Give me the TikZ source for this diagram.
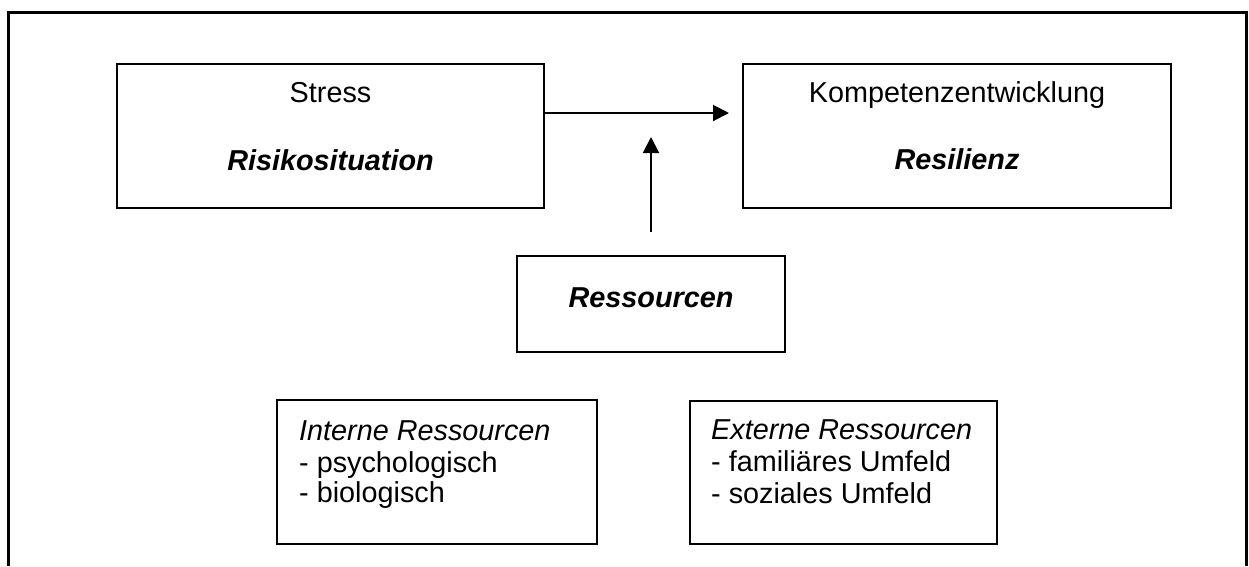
\documentclass[tikz,border=0pt]{standalone}
\usepackage{fontspec}
\setmainfont{Liberation Sans}
\usetikzlibrary{arrows.meta}

\begin{document}
\begin{tikzpicture}[x=1pt,y=-1pt,
  box/.style={draw, line width=2pt, rectangle, inner sep=0pt},
  lbl/.style={inner sep=0pt, anchor=base, font=\fontsize{28.8}{31}\selectfont},
  lbll/.style={inner sep=0pt, anchor=base west, font=\fontsize{28.8}{31}\selectfont},
  arr/.style={line width=2pt, -{Triangle[length=16pt,width=16pt]}}]
  \useasboundingbox (0,0) rectangle (1249,566);

  % open frame (left, top, right)
  \draw[line width=2.8pt] (8.5,566) -- (8.5,12.5) -- (1246.5,12.5) -- (1246.5,566);

  % main boxes
  \node[box, minimum width=427pt, minimum height=144pt] (risk)   at (330.5,136) {};
  \node[box, minimum width=428pt, minimum height=144pt] (resil)  at (957,136) {};
  \node[box, minimum width=268pt, minimum height=96pt]  (ress)   at (651,304) {};
  \node[box, minimum width=320pt, minimum height=144pt] (intern) at (437,472) {};
  \node[box, minimum width=307pt, minimum height=143pt] (extern) at (843.5,472.5) {};

  % labels
  \node[lbl] (t1)  at (330.5,102) {Stress};
  \node[lbl] (t2)  at (330.5,170) {\bfseries\itshape Risikosituation};
  \node[lbl] (t3)  at (957,102)   {Kompetenzentwicklung};
  \node[lbl] (t4)  at (957,169)   {\bfseries\itshape Resilienz};
  \node[lbl] (t5)  at (651,307)   {\bfseries\itshape Ressourcen};

  \node[lbll] (i1) at (299,440) {\itshape Interne Ressourcen};
  \node[lbll] (i2) at (299,472) {- psychologisch};
  \node[lbll] (i3) at (299,502) {- biologisch};

  \node[lbll] (e1) at (711,439) {\itshape Externe Ressourcen};
  \node[lbll] (e2) at (711,471) {- familiäres Umfeld};
  \node[lbll] (e3) at (711,503) {- soziales Umfeld};

  % connectors
  \coordinate (meet) at (651,137);
  \draw[arr, shorten >=13pt] ([yshift=23pt]risk.east) -- ([yshift=23pt]resil.west);
  \draw[arr, shorten <=23pt] (ress.north) -- (meet);
\end{tikzpicture}
\end{document}
